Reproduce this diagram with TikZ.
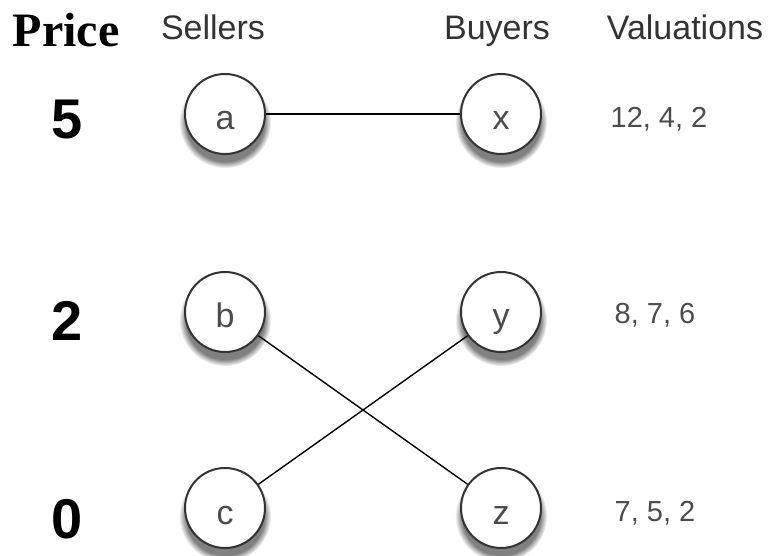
\documentclass[tikz,border=0pt]{standalone}
\usepackage{fontspec}
\setmainfont{Liberation Serif}
\setsansfont{Liberation Sans}
\usetikzlibrary{positioning,shadows}

\begin{document}
\begin{tikzpicture}[-,node distance=99pt, line width=0.7pt,
    main node/.style={circle,draw=black!80,line width=1pt,fill=white,minimum size=40pt,inner sep=0pt,
        text height=16pt,text depth=0pt,
        circular drop shadow={shadow xshift=0pt,shadow yshift=-3.5pt,shadow scale=1.15,opacity=1},
        font=\sffamily\fontsize{17}{17}\selectfont,text=black!70},
    head/.style={anchor=base,font=\sffamily\fontsize{17}{17}\selectfont,text=black!80},
    price/.style={font=\sffamily\bfseries\fontsize{28}{28}\selectfont},
    val/.style={font=\sffamily\fontsize{14.5}{14.5}\selectfont,text=black!70}]

            \useasboundingbox (0,0) rectangle (389pt,-278pt);

            \node[head, font=\rmfamily\bfseries\fontsize{24}{24}\selectfont, text=black] (pricehead) at (33pt,-23.5pt) {Price};
            \node[head] (sellhead) at (106.5pt,-20pt) {Sellers};
            \node[head] (buyhead) at (248.5pt,-20pt) {Buyers};
            \node[head] (valhead) at (342.5pt,-20pt) {Valuations};

            \node[main node] (a) at (112.5pt,-57pt) {a};
            \node[main node] (b) [below of = a]{b};
            \node[main node] (c) [below of = b, yshift=1pt]{c};
            \node[main node] (x) [right of = a, xshift=39pt]{x};
            \node[main node] (y) [right of = b, xshift=39pt]{y};
            \node[main node] (z) [right of = c, xshift=39pt]{z};

            \node[price] (p5) [left of = a, xshift=20pt, yshift=-3pt]{5};
            \node[price] (p2) [left of = b, xshift=20pt, yshift=-4.5pt]{2};
            \node[price] (p0) [left of = c, xshift=20pt, yshift=-5.5pt]{0};

            \node[val] (vx) [right of = x, xshift=-20pt, yshift=-2.5pt]{12, 4, 2};
            \node[val] (vy) [right of = y, xshift=-22pt, yshift=-1.5pt]{8, 7, 6};
            \node[val] (vz) [right of = z, xshift=-22pt, yshift=-2.5pt]{7, 5, 2};

            \path
                (a) edge (x)
                (b) edge (z)
                (c) edge (y)
            ;
        \end{tikzpicture}
\end{document}
